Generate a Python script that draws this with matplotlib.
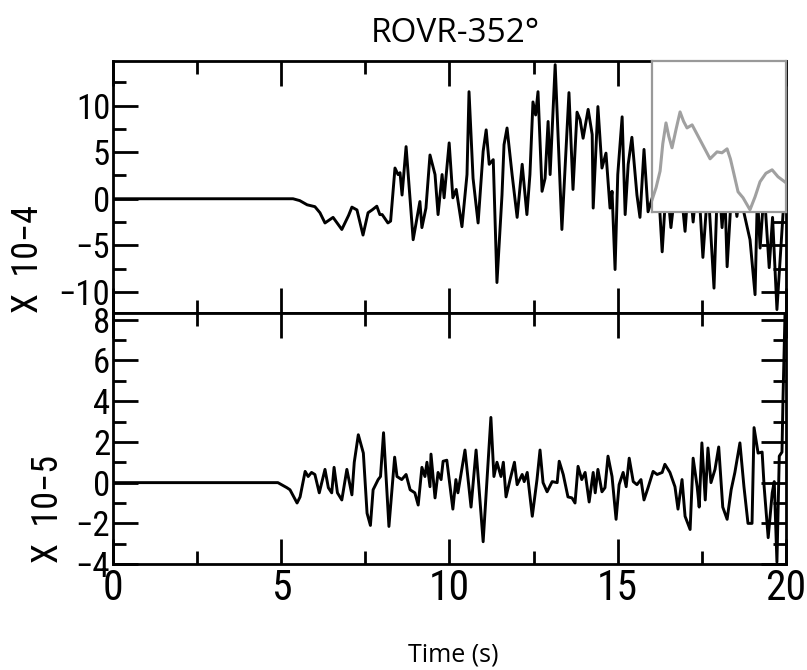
import matplotlib
matplotlib.use("Agg")
import matplotlib.pyplot as plt
from matplotlib import font_manager as fm
from matplotlib.ticker import MultipleLocator

# upper trace (x 10^-4)
t_top = [0.0, 5.35, 5.55, 5.77, 6.0, 6.15, 6.3, 6.54, 6.8, 7.0, 7.1, 7.25, 7.43, 7.58, 7.7,
         7.84, 7.93, 8.0, 8.17, 8.25, 8.38, 8.47, 8.53, 8.59, 8.71, 8.92, 9.12, 9.18, 9.3,
         9.42, 9.57, 9.66, 9.78, 9.84, 9.99, 10.1, 10.2, 10.37, 10.52, 10.58, 10.7, 10.85,
         11.0, 11.09, 11.18, 11.3, 11.41, 11.56, 11.62, 11.71, 11.86, 12.01, 12.16, 12.3,
         12.39, 12.48, 12.56, 12.63, 12.75, 12.84, 12.93, 12.99, 13.14, 13.34, 13.55, 13.67,
         13.79, 13.88, 13.97, 14.12, 14.24, 14.27, 14.41, 14.53, 14.65, 14.77, 14.83, 14.92,
         15.0, 15.13, 15.22, 15.31, 15.42, 15.57, 15.66, 15.78, 15.9, 16.05, 16.18, 16.32,
         16.45, 16.58, 16.8, 17.0, 17.12, 17.24, 17.38, 17.53, 17.68, 17.86, 17.98, 18.1,
         18.18, 18.25, 18.4, 18.54, 18.65, 18.75, 18.93, 19.08, 19.15, 19.23, 19.35, 19.5,
         19.6, 19.73, 19.91, 20.0]
v_top = [0.0, 0.0, -0.2, -0.65, -0.85, -1.5, -2.6, -2.0, -3.3, -1.8, -0.9, -1.2, -3.9, -1.5, -1.2,
         -0.8, -1.7, -1.7, -2.6, -2.4, 3.3, 2.6, 2.8, 0.4, 5.6, -4.4, -0.3, -3.1, -1.0,
         4.7, 2.6, -1.7, 2.6, 0.1, 6.0, 0.1, 1.0, -3.0, 2.6, 11.5, 2.2, -2.6,
         5.1, 7.4, 3.7, 4.2, -9.0, 0.4, 5.8, 7.6, 2.6, -2.0, 3.7, -1.7,
         2.6, 10.4, 9.0, 11.5, 0.8, 2.2, 8.3, 2.6, 14.4, -3.3, 11.4, 1.0,
         9.3, 8.5, 6.5, 9.6, 6.9, -1.0, 9.9, 3.3, 4.9, -1.0, 0.8, -7.6,
         2.6, 8.8, -1.7, 3.7, 6.6, 0.4, -2.0, 5.3, -1.4, 0.4, 3.0, -5.7,
         2.0, -3.1, 4.0, -3.5, 2.5, -2.5, 3.0, -6.3, 1.5, -9.6, 3.5, -3.1,
         1.0, -7.3, 2.0, -1.9, 1.0, -1.5, -4.4, -10.3, 0.5, -5.3, 1.0, -7.4,
         -2.0, -11.9, -1.7, 2.0]

# lower trace (x 10^-5)
t_bot = [0.0, 4.9, 5.17, 5.26, 5.47, 5.56, 5.71, 5.8, 5.9, 6.0, 6.13, 6.3, 6.4, 6.5, 6.57,
         6.67, 6.8, 6.95, 7.1, 7.17, 7.29, 7.44, 7.55, 7.65, 7.73, 7.88, 7.95, 8.04, 8.2,
         8.37, 8.44, 8.58, 8.71, 8.83, 8.97, 9.07, 9.18, 9.27, 9.33, 9.42, 9.45, 9.57, 9.66,
         9.75, 9.81, 9.92, 10.1, 10.19, 10.25, 10.46, 10.64, 10.79, 11.0, 11.23, 11.32, 11.41,
         11.53, 11.6, 11.68, 11.8, 11.93, 12.01, 12.16, 12.22, 12.31, 12.46, 12.6, 12.69,
         12.78, 12.9, 13.05, 13.2, 13.26, 13.38, 13.52, 13.64, 13.73, 13.82, 13.93, 14.03,
         14.15, 14.27, 14.33, 14.41, 14.53, 14.62, 14.71, 14.83, 14.95, 15.04, 15.16, 15.25,
         15.34, 15.46, 15.57, 15.69, 15.78, 15.9, 16.05, 16.17, 16.32, 16.4, 16.55, 16.7,
         16.79, 16.91, 17.0, 17.15, 17.24, 17.36, 17.42, 17.5, 17.6, 17.68, 17.77, 17.89,
         18.0, 18.12, 18.25, 18.37, 18.48, 18.63, 18.75, 18.87, 18.99, 19.05, 19.17, 19.29,
         19.35, 19.47, 19.59, 19.65, 19.73, 19.8, 19.88, 19.91, 19.97, 20.0]
v_bot = [0.0, 0.0, -0.25, -0.35, -1.0, -0.7, 0.55, 0.3, 0.5, 0.4, -0.5, 0.65, -0.25, -0.5, 0.75,
         -0.5, -0.85, 0.65, -0.6, 1.0, 2.35, 1.45, -1.5, -2.1, -0.35, 0.15, 0.3, 2.45, -2.15,
         1.25, 0.3, 0.15, 0.4, -0.35, -0.5, -1.1, 0.75, 0.3, 1.0, -0.2, 1.4, -0.75, 0.5,
         0.15, 1.05, 1.1, -1.3, 0.15, -0.5, 1.6, -1.2, 1.6, -2.9, 3.2, 0.3, 1.0,
         0.3, 1.0, -0.7, 0.15, 1.0, -0.1, 0.4, 0.05, 0.5, -1.65, 0.15, 1.6,
         0.0, -0.45, 0.05, 0.0, 1.05, 0.4, -0.7, -0.75, -1.0, 0.8, 0.15, 0.5,
         -0.95, 0.5, -0.5, 0.65, -0.45, -0.25, 1.3, 0.3, -1.8, -0.1, 0.5, -0.2,
         1.2, 0.05, -0.1, 0.15, -0.85, -0.25, 0.55, 0.4, 0.5, 0.9, 0.5, -0.2,
         -1.3, 0.15, -1.65, -2.3, 1.2, -0.2, -1.2, 1.95, -0.85, 1.7, 0.0, 0.65,
         1.75, -1.2, -1.8, -0.35, 0.5, 1.95, -0.2, -2.0, -2.0, 2.7, 1.45, 1.5,
         -0.2, -2.7, -0.5, 0.05, -3.9, 1.3, 1.5, 4.1, 8.3, 9.0]

# inset curve (normalised inset units)
x_ins = [0.0, 0.03, 0.06, 0.08, 0.104, 0.125, 0.149, 0.18, 0.209, 0.235, 0.261, 0.299, 0.358,
         0.433, 0.485, 0.522, 0.56, 0.585, 0.604, 0.642, 0.679, 0.731, 0.769, 0.806, 0.85,
         0.896, 0.94, 1.0]
y_ins = [0.079, 0.16, 0.27, 0.45, 0.589, 0.5, 0.424, 0.55, 0.662, 0.6, 0.556, 0.576, 0.477,
         0.351, 0.397, 0.391, 0.417, 0.35, 0.278, 0.132, 0.093, 0.013, 0.099, 0.199, 0.255,
         0.278, 0.232, 0.192]


def pick_narrow():
    # look for any condensed sans face that is installed
    fonts = fm.fontManager.ttflist
    prefs = ["Liberation Sans Narrow", "Roboto Condensed", "Open Sans Condensed",
             "DejaVu Sans Condensed", "Noto Sans Condensed"]
    for p in prefs:
        for f in fonts:
            if f.name == p and f.style == "normal" and f.weight in (400, "normal", "regular"):
                return fm.FontProperties(fname=f.fname)
    for f in fonts:
        if f.style == "normal" and f.weight in (400, "normal", "regular") and \
                ("condensed" in str(f.stretch) or "Narrow" in f.name or "Condensed" in f.name):
            return fm.FontProperties(fname=f.fname)
    return fm.FontProperties(family="DejaVu Sans", stretch="condensed")


narrow = pick_narrow()
text_font = ["Open Sans", "DejaVu Sans"]

fig = plt.figure(figsize=(8.07, 6.70), dpi=100)
ax1 = fig.add_axes([0.140, 0.533, 0.834, 0.376])
ax2 = fig.add_axes([0.140, 0.158, 0.834, 0.375])

ax1.plot(t_top, v_top, color="black", lw=2.1)
ax2.plot(t_bot, v_bot, color="black", lw=2.1)

ax1.set_ylim(-12.26, 14.8)
ax2.set_ylim(-4, 8.33)
ax1.yaxis.set_major_locator(MultipleLocator(5))
ax1.yaxis.set_minor_locator(MultipleLocator(2.5))
ax2.yaxis.set_major_locator(MultipleLocator(2))
ax2.yaxis.set_minor_locator(MultipleLocator(1))

for ax in (ax1, ax2):
    ax.set_xlim(0, 20)
    ax.xaxis.set_major_locator(MultipleLocator(5))
    ax.xaxis.set_minor_locator(MultipleLocator(2.5))
    for s in ax.spines.values():
        s.set_linewidth(2.0)
    ax.tick_params(which="both", direction="in", top=True, right=True, width=2.0)
    ax.tick_params(which="major", length=18)
    ax.tick_params(which="minor", length=9.5)
    ax.tick_params(axis="y", pad=2)
    ax.tick_params(axis="x", pad=3)

ax1.tick_params(axis="x", labelbottom=False)

fig.canvas.draw()
for ax in (ax1, ax2):
    for lab in ax.get_yticklabels():
        lab.set_fontproperties(narrow)
        lab.set_fontsize(25)
    for lab in ax.get_xticklabels():
        lab.set_fontproperties(narrow)
        lab.set_fontsize(30)

ax1.text(-0.126, 0.0, "X  10\u22124", transform=ax1.transAxes, rotation=90,
         ha="center", va="bottom", fontproperties=narrow, fontsize=26)
ax2.text(-0.097, 0.004, "X  10\u22125", transform=ax2.transAxes, rotation=90,
         ha="center", va="bottom", fontproperties=narrow, fontsize=26)

# inset
axi = fig.add_axes([0.808, 0.684, 0.166, 0.225], zorder=5)
axi.plot(x_ins, y_ins, color="#a0a0a0", lw=2.2)
axi.set_xlim(0, 1)
axi.set_ylim(0, 1)
axi.set_xticks([])
axi.set_yticks([])
for s in axi.spines.values():
    s.set_color("#999999")
    s.set_linewidth(1.6)

fig.text(455 / 807, 1 - 42 / 670, "ROVR-352°", ha="center", va="baseline",
         fontsize=24, family=text_font)
fig.text(453 / 807, 1 - 662 / 670, "Time (s)", ha="center", va="baseline",
         fontsize=18, family=text_font)

fig.savefig("out.png", dpi=100)
